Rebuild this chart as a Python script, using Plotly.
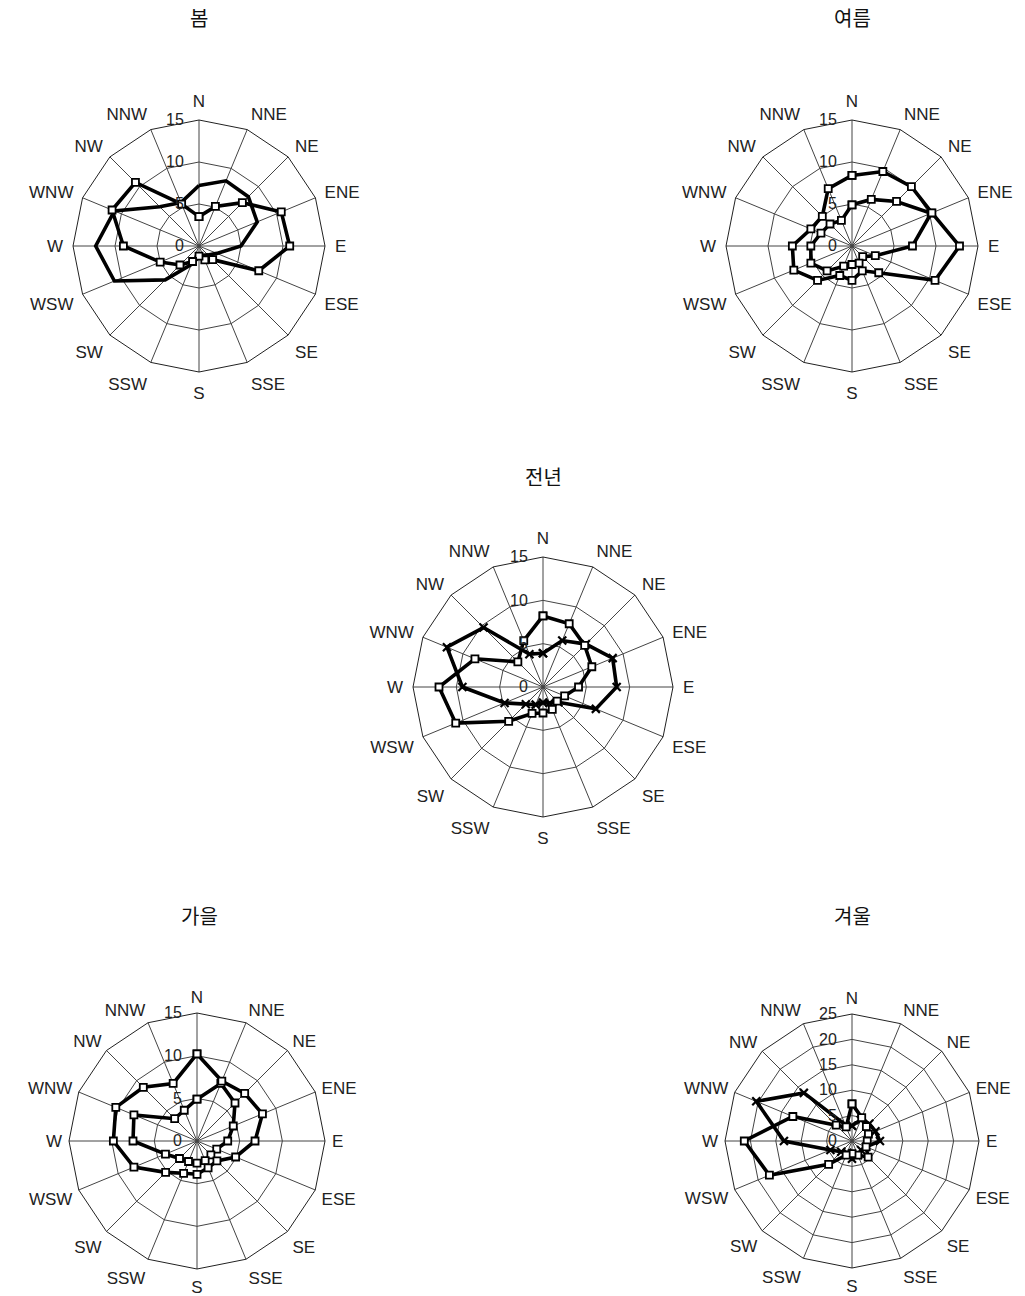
import plotly.graph_objects as go

directions = ["N", "NNE", "NE", "ENE", "E", "ESE", "SE", "SSE",
              "S", "SSW", "SW", "WSW", "W", "WNW", "NW", "NNW"]

titles = ["봄", "여름", "전년", "가을", "겨울"]

spring_a = [3.5, 5.1, 7.3, 10.6, 10.8, 7.7, 2.3, 1.8, 1.2, 2.0, 3.2, 5.0, 9.0, 11.2, 10.7, 5.4]
spring_b = [7.2, 8.4, 8.3, 7.5, 5.0, 2.3, 1.5, 1.2, 1.3, 2.4, 5.7, 10.9, 12.3, 10.9, 6.6, 5.6]

summer_a = [8.4, 9.6, 10.0, 10.3, 12.8, 10.7, 4.5, 3.2, 4.1, 3.8, 5.8, 7.5, 7.1, 5.3, 5.0, 7.4]
summer_b = [4.9, 6.0, 7.5, 10.2, 7.2, 3.0, 1.8, 2.2, 2.2, 2.6, 4.2, 5.3, 4.9, 4.0, 3.7, 3.3]

year_a = [8.2, 7.9, 6.8, 6.1, 4.1, 2.7, 2.3, 2.8, 3.0, 3.3, 5.6, 10.9, 12.0, 8.5, 4.1, 5.8]
year_b = [3.9, 5.8, 7.0, 8.7, 8.5, 6.6, 2.5, 2.0, 1.8, 2.2, 2.8, 4.8, 9.3, 12.0, 9.7, 4.1]

autumn_a = [10.2, 7.6, 7.9, 8.3, 6.8, 4.9, 3.3, 3.4, 3.9, 4.1, 5.2, 8.0, 9.8, 10.3, 8.9, 7.3]
autumn_b = [4.9, 7.3, 6.3, 4.6, 3.6, 2.5, 2.3, 2.5, 2.6, 2.6, 2.9, 4.0, 7.5, 8.0, 3.7, 3.9]

winter_a = [7.3, 5.0, 4.0, 3.5, 3.0, 3.0, 4.5, 3.0, 2.5, 3.0, 6.5, 17.6, 21.2, 12.6, 4.4, 3.0]
winter_b = [3.0, 4.5, 4.8, 5.0, 5.5, 3.0, 2.5, 3.0, 3.5, 2.5, 3.0, 4.6, 13.4, 20.4, 13.4, 3.5]

radial_max = [15, 15, 15, 15, 25]
radial_ticks = [[0, 5, 10, 15], [0, 5, 10, 15], [0, 5, 10, 15], [0, 5, 10, 15],
                [0, 5, 10, 15, 20, 25]]

series = [
    (spring_a, "square", spring_b, None),
    (summer_a, "square", summer_b, "square"),
    (year_a, "square", year_b, "x"),
    (autumn_a, "square", autumn_b, "square"),
    (winter_a, "square", winter_b, "x"),
]

# centres (px) and radius (px) of each rose on a 1025x1296 page
W, H = 1025, 1296
centres = [(199, 246, 126), (852, 246, 126), (543, 687, 130),
           (197, 1141, 128), (852, 1141, 127)]
label_gap = [6, 6, 6, 3, 3]
title_pos = [(199, 18), (852, 18), (543, 476), (199, 915), (852, 915)]

fig = go.Figure()

def closed(v):
    return list(v) + [v[0]]

theta_c = closed(directions)

def marker_for(sym):
    if sym == "square":
        return dict(symbol="square", size=7, color="white",
                    line=dict(color="black", width=1.8))
    if sym == "x":
        return dict(symbol="x-thin", size=8, color="black",
                    line=dict(color="black", width=2.2))
    return None

for i, (a, sa, b, sb) in enumerate(series):
    pid = "polar" if i == 0 else f"polar{i+1}"
    for vals, sym in ((b, sb), (a, sa)):
        tr = dict(r=closed(vals), theta=theta_c, subplot=pid,
                  line=dict(color="black", width=3.6), showlegend=False,
                  hoverinfo="skip")
        if sym is None:
            tr["mode"] = "lines"
        else:
            tr["mode"] = "lines+markers"
            tr["marker"] = marker_for(sym)
        fig.add_trace(go.Scatterpolar(**tr))

    cx, cy, rad = centres[i]
    polar = dict(
        domain=dict(x=[(cx - rad) / W, (cx + rad) / W],
                    y=[1 - (cy + rad) / H, 1 - (cy - rad) / H]),
        gridshape="linear",
        bgcolor="white",
        radialaxis=dict(range=[0, radial_max[i]], tickvals=radial_ticks[i],
                        angle=90, tickangle=90, side="counterclockwise",
                        showline=False, gridcolor="#444", gridwidth=0.8,
                        ticks="outside", ticklen=9,
                        tickcolor="rgba(0,0,0,0)",
                        tickfont=dict(size=16, color="#222",
                                      family="Liberation Sans")),
        angularaxis=dict(type="category", categoryarray=directions,
                         direction="clockwise", rotation=90,
                         showline=True, linecolor="#222", linewidth=1,
                         gridcolor="#444", gridwidth=0.8,
                         ticks="outside", ticklen=label_gap[i],
                         tickcolor="rgba(0,0,0,0)",
                         tickfont=dict(size=17, color="#222",
                                       family="Liberation Sans")),
    )
    fig.layout[pid] = polar

    tx, ty = title_pos[i]
    fig.add_annotation(text=titles[i], x=tx / W, y=1 - ty / H, xref="paper",
                       yref="paper", xanchor="center", yanchor="middle",
                       showarrow=False,
                       font=dict(size=20, color="#111",
                                 family="Noto Sans CJK KR"))

fig.update_layout(width=W, height=H, margin=dict(l=0, r=0, t=0, b=0),
                  paper_bgcolor="white", plot_bgcolor="white")

fig.write_html("out.html", config={"displayModeBar": False},
               post_script="document.body.style.margin='0';"
                           "document.body.style.overflow='hidden';")
